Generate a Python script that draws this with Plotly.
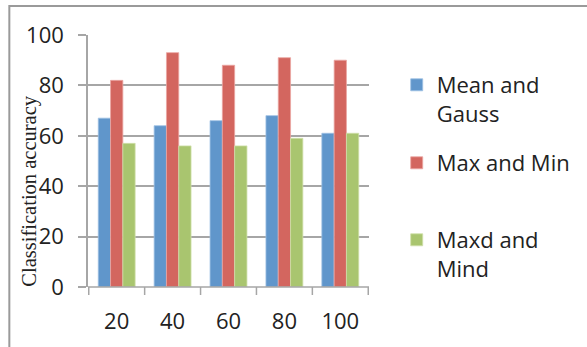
import plotly.graph_objects as go

categories = ["20", "40", "60", "80", "100"]
mean_gauss = [67, 64, 66, 68, 61]
max_min = [82, 93, 88, 91, 90]
maxd_mind = [57, 56, 56, 59, 61]
y_ticks = [0, 20, 40, 60, 80, 100]

W, H = 587, 347
ML, MR, MT, MB = 88, 215, 35, 60
PW, PH = W - ML - MR, H - MT - MB

def px_x(p):
    return (p - ML) / PW

def px_y(p):
    return (H - MB - p) / PH

font = "Open Sans, Liberation Sans, sans-serif"
series = [
    ("Mean and<br>Gauss", mean_gauss, "#6096CB", "#9DC0E3", "legend", 64),
    ("Max and Min", max_min, "#D3665F", "#EBA6A2", "legend2", 142),
    ("Maxd and<br>Mind", maxd_mind, "#A9C56F", "#CFE0AA", "legend3", 219),
]

fig = go.Figure()
legends = {}
for name, vals, col, edge, lg, top in series:
    fig.add_trace(go.Bar(
        x=categories, y=vals, name=name, legend=lg,
        marker=dict(color=col, line=dict(color=edge, width=0.8)),
    ))
    legends[lg] = dict(
        x=px_x(400), y=px_y(top), xanchor="left", yanchor="top",
        valign="top", font=dict(family=font, size=22, color="#222222"),
        itemwidth=30, bgcolor="rgba(0,0,0,0)",
    )

fig.update_layout(
    width=W, height=H,
    margin=dict(l=ML, r=MR, t=MT, b=MB, pad=0),
    paper_bgcolor="white", plot_bgcolor="white",
    barmode="group", bargap=0.34, bargroupgap=0,
    font=dict(family=font, size=22, color="#222222"),
    showlegend=True,
    xaxis=dict(
        showgrid=False, showline=False, zeroline=False,
        ticks="", tickfont=dict(size=22), ticklabelstandoff=19,
    ),
    yaxis=dict(
        range=[0, 100], tickvals=y_ticks, showgrid=True,
        gridcolor="#A6A6A6", gridwidth=1.5,
        showline=True, linecolor="#A6A6A6", linewidth=1.5,
        zeroline=False, ticks="outside", ticklen=8, tickcolor="#A6A6A6",
        tickwidth=1.5, tickfont=dict(size=22), ticklabelstandoff=10,
    ),
    **legends,
)

# x-axis baseline with category boundary tick marks
fig.add_shape(type="line", xref="paper", yref="paper", x0=0, x1=1, y0=0, y1=0,
              line=dict(color="#A6A6A6", width=1.5))
for i in range(len(categories) + 1):
    fig.add_shape(type="line", xref="x", yref="paper",
                  x0=i - 0.5, x1=i - 0.5, y0=0, y1=-8 / PH,
                  line=dict(color="#A6A6A6", width=1.5))

# y-axis title
fig.add_annotation(
    text="Classification accuracy", xref="paper", yref="paper",
    x=px_x(28), y=px_y(191), xanchor="center", yanchor="middle",
    showarrow=False, textangle=-90,
    font=dict(family="Liberation Serif, Times New Roman, serif", size=20.5, color="#222222"),
)

# outer chart border
fig.add_shape(type="rect", xref="paper", yref="paper",
              x0=px_x(8.5), x1=px_x(620), y0=px_y(6), y1=px_y(380),
              line=dict(color="#9A9A9A", width=2), layer="below")

fig.write_html("out.html")
